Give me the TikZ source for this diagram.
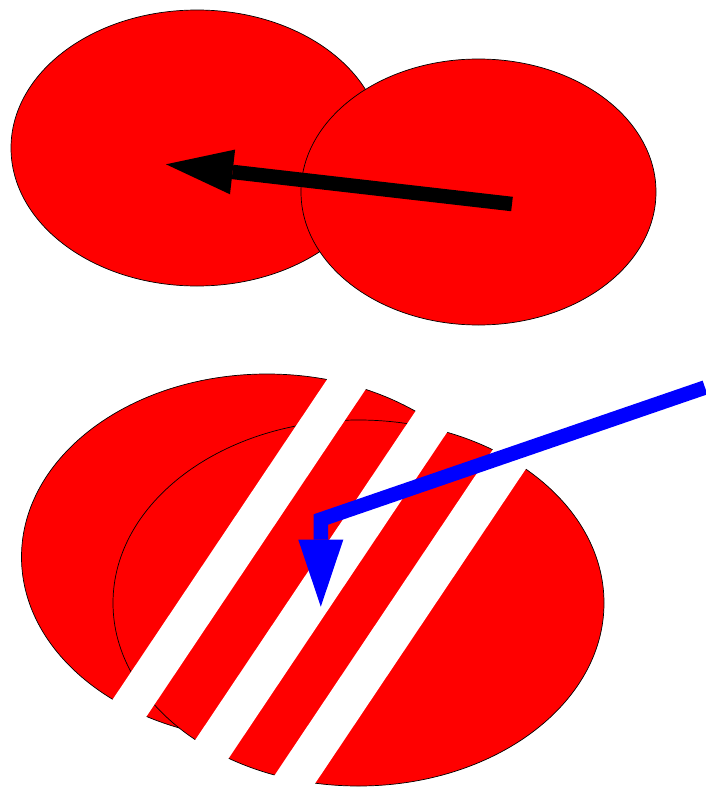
\documentclass[tikz,border=0pt]{standalone}
\usepackage{tikz}
\usetikzlibrary{arrows.meta, shapes.geometric}

\begin{document}
\begin{tikzpicture}[x=1pt, y=-1pt,
  blob/.style={ellipse, draw=black, fill=red, line width=0.7pt, inner sep=0pt, outer sep=0pt},
  small/.style={blob, minimum width=372pt, minimum height=276pt},
  big/.style={blob, minimum width=491pt, minimum height=366pt},
  pointer/.style={-{Triangle[length=67pt, width=45pt, line width=0pt]}, line width=14.5pt}]
\useasboundingbox (0,0) rectangle (706,787);
% upper pair
\node[small] (upperL) at (197,148) {};
\node[blob, minimum width=355pt, minimum height=266pt] (upperR) at (478.5,192) {};
\coordinate (tailK) at (512,204);
\coordinate (headK) at (166,164.3);
\draw[pointer, black] (tailK) -- (headK);
% lower pair, cut by white bands
\node[big] (lowerL) at (267,557) {};
\node[big] (lowerR) at (358.5,603) {};
\foreach \l/\r in {179.3/224.5, 289/334.7, 392/438}
  \fill[white] ({\l+160.8},360) -- ({\r+160.8},360) -- ({\r-125.3},787) -- ({\l-125.3},787) -- cycle;
\coordinate (tailB) at (705,387.5);
\coordinate (bendB) at (320.8,519.5);
\coordinate (headB) at (320.8,606.7);
\draw[pointer, blue] (tailB) -- (bendB) -- (headB);
\end{tikzpicture}
\end{document}
